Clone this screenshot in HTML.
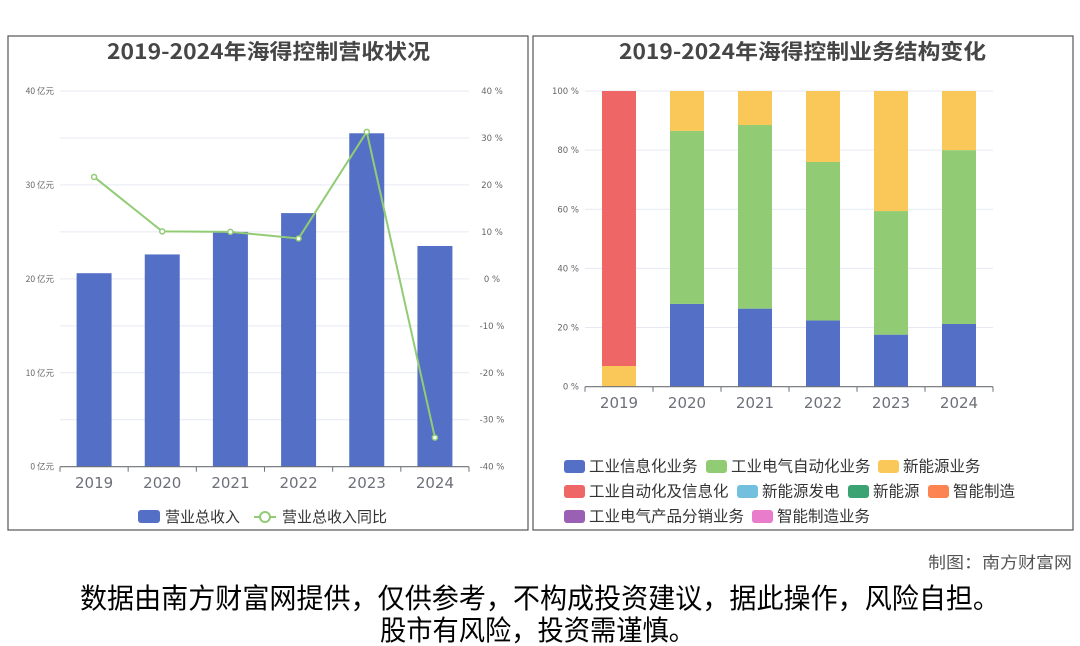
<!DOCTYPE html>
<html><head><meta charset="utf-8"><style>
html,body{margin:0;padding:0;background:#fff;width:1080px;height:646px;overflow:hidden}
svg{display:block}
text{font-family:"DejaVu Sans","Liberation Sans","Noto Sans CJK SC",sans-serif}
.cjk{font-family:"Noto Sans CJK SC","WenQuanYi Zen Hei",sans-serif}
</style></head><body>
<svg id="svg" width="1080" height="646">
<rect x="8" y="36" width="520" height="494" fill="#fff" stroke="#555" stroke-width="1.2"/>
<rect x="533" y="36" width="540" height="494" fill="#fff" stroke="#555" stroke-width="1.2"/>
<text x="107" y="59" textLength="323" lengthAdjust="spacingAndGlyphs" font-size="21" font-weight="bold" fill="#464646" class="cjk">2019-2024年海得控制营收状况</text>
<text x="619" y="59" textLength="367" lengthAdjust="spacingAndGlyphs" font-size="21" font-weight="bold" fill="#464646" class="cjk">2019-2024年海得控制业务结构变化</text>
<g id="left"></g><g id="right"></g>
<text x="928" y="568" textLength="144" lengthAdjust="spacingAndGlyphs" font-size="16" fill="#555" class="cjk">制图：南方财富网</text>
<text x="80" y="608" textLength="920" lengthAdjust="spacingAndGlyphs" font-size="28" fill="#000" class="cjk">数据由南方财富网提供，仅供参考，不构成投资建议，据此操作，风险自担。</text>
<text x="380" y="640" textLength="315" lengthAdjust="spacingAndGlyphs" font-size="28" fill="#000" class="cjk">股市有风险，投资需谨慎。</text>
</svg>
<script>
const years=["2019","2020","2021","2022","2023","2024"];
const revenue=[20.6,22.6,25.0,27.0,35.5,23.5];
const growth=[21.7,10.1,10.0,8.6,31.3,-33.8];
const leftTicks=["0 亿元","10 亿元","20 亿元","30 亿元","40 亿元"];
const rightTicks=["-40 %","-30 %","-20 %","-10 %","0 %","10 %","20 %","30 %","40 %"];
const segInfo=[0,28.0,26.4,22.4,17.6,21.2];
const segElec=[0,58.5,62.1,53.6,41.8,58.8];
const segNew=[7.0,13.5,11.5,24.0,40.6,20.0];
const segAuto=[93.0,0,0,0,0,0];
const pctTicks=["0 %","20 %","40 %","60 %","80 %","100 %"];
const NS="http://www.w3.org/2000/svg";
function mk(p,t,a,txt){const e=document.createElementNS(NS,t);for(const k in a)e.setAttribute(k,a[k]);if(txt!=null)e.textContent=txt;p.appendChild(e);return e;}
const C={blue:"#5470c6",green:"#91cc75",yellow:"#fac858",red:"#ee6666",cyan:"#73c0de",dgreen:"#3ba272",orange:"#fc8452",purple:"#9a60b4",pink:"#ea7ccc"};
// LEFT
const L=document.getElementById('left');
const lx0=60,lx1=469,ly0=466.7,ly1=91;
const lbw=(lx1-lx0)/years.length;
const yL=v=>ly0-(v/40)*(ly0-ly1);
const yR=v=>ly0-((v+40)/80)*(ly0-ly1);
const xL=i=>lx0+lbw*(i+0.5);
for(let i=0;i<=8;i++){const y=ly0-i*(ly0-ly1)/8;
 if(i>0){const g=mk(L,'line',{x1:lx0,x2:lx1,y1:y,y2:y,stroke:'#e6e9f4','stroke-width':1});
 
 }
 const t=mk(L,'text',{x:492,y:y+3,'font-size':8.5,fill:'#666','text-anchor':'middle'},rightTicks[i]);
 
 }
leftTicks.forEach((s,i)=>{const t=mk(L,'text',{x:54,y:yL(i*10)+3,'font-size':8.5,fill:'#666','text-anchor':'end',class:'cjk'},s);
 
 });
revenue.forEach((v,i)=>{const r=mk(L,'rect',{x:xL(i)-17.5,y:yL(v),width:35,height:ly0-yL(v),fill:C.blue});
 
 });
mk(L,'line',{x1:lx0,x2:lx1,y1:ly0,y2:ly0,stroke:'#6e7079','stroke-width':1.2});
for(let i=0;i<=years.length;i++)mk(L,'line',{x1:lx0+lbw*i,x2:lx0+lbw*i,y1:ly0,y2:ly0+5,stroke:'#6e7079'});
years.forEach((s,i)=>{const t=mk(L,'text',{x:xL(i),y:488,'font-size':15,fill:'#6e7079','text-anchor':'middle'},s);
 
 });
const pl=mk(L,'polyline',{points:growth.map((v,i)=>xL(i)+','+yR(v)).join(' '),fill:'none',stroke:C.green,'stroke-width':2});


growth.forEach((v,i)=>{const c=mk(L,'circle',{cx:xL(i),cy:yR(v),r:2.5,fill:'#fff',stroke:C.green,'stroke-width':1.5});
 
 });
const lg1=mk(L,'rect',{x:138,y:510,width:22,height:13,rx:3,fill:C.blue});


mk(L,'text',{x:165,y:522,'font-size':15,fill:'#333',class:'cjk'},'营业总收入');
mk(L,'line',{x1:254,x2:276,y1:517,y2:517,stroke:C.green,'stroke-width':2});
const lg2=mk(L,'circle',{cx:265,cy:517,r:5,fill:'#fff',stroke:C.green,'stroke-width':2});


mk(L,'text',{x:282,y:522,'font-size':15,fill:'#333',class:'cjk'},'营业总收入同比');
// RIGHT
const R=document.getElementById('right');
const rx0=585,rx1=993,ry0=386.7,ry1=91;
const rbw=(rx1-rx0)/years.length;
const yP=v=>ry0-(v/100)*(ry0-ry1);
const xP=i=>rx0+rbw*(i+0.5);
pctTicks.forEach((s,i)=>{const y=yP(i*20);
 if(i>0){const g=mk(R,'line',{x1:rx0,x2:rx1,y1:y,y2:y,stroke:'#e6e9f4'});
 
 }
 const t=mk(R,'text',{x:579,y:y+3,'font-size':8.5,fill:'#666','text-anchor':'end'},s);
 
 });
const series=[[segInfo,C.blue,'info'],[segElec,C.green,'elec'],[segNew,C.yellow,'newenergy'],[segAuto,C.red,'auto']];
years.forEach((y,i)=>{let acc=0;series.forEach(([arr,col,nm])=>{const v=arr[i];if(v>0){
 const r=mk(R,'rect',{x:xP(i)-17,y:yP(acc+v),width:34,height:yP(acc)-yP(acc+v),fill:col});
 
 }acc+=v;});});
mk(R,'line',{x1:rx0,x2:rx1,y1:ry0,y2:ry0,stroke:'#6e7079','stroke-width':1.2});
for(let i=0;i<=years.length;i++)mk(R,'line',{x1:rx0+rbw*i,x2:rx0+rbw*i,y1:ry0,y2:ry0+5,stroke:'#6e7079'});
years.forEach((s,i)=>{const t=mk(R,'text',{x:xP(i),y:408,'font-size':15,fill:'#6e7079','text-anchor':'middle'},s);
 
 });
const leg=[[564,466,C.blue,'工业信息化业务'],[706,466,C.green,'工业电气自动化业务'],[878,466,C.yellow,'新能源业务'],
[564,491,C.red,'工业自动化及信息化'],[737,491,C.cyan,'新能源发电'],[848,491,C.dgreen,'新能源'],[928,491,C.orange,'智能制造'],
[564,516,C.purple,'工业电气产品分销业务'],[752,516,C.pink,'智能制造业务']];
leg.forEach(([x,y,c,s])=>{const r=mk(R,'rect',{x:x,y:y-6,width:21,height:13,rx:3,fill:c});
 
 
 mk(R,'text',{x:x+25,y:y+5.5,'font-size':15.5,fill:'#333',class:'cjk'},s);});
</script>
</body></html>
